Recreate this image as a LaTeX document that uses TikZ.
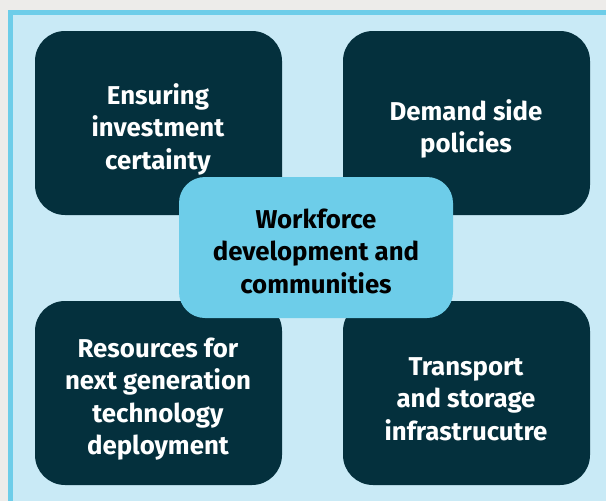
\documentclass[tikz,border=0pt]{standalone}
\usepackage{fontspec}
\setmainfont{Fira Sans}
\definecolor{pagegray}{HTML}{EDECEA}
\definecolor{frameblue}{HTML}{6DCDE9}
\definecolor{panelblue}{HTML}{C9EAF6}
\definecolor{darkteal}{HTML}{04303D}
\definecolor{midblue}{HTML}{6DCDE9}
\tikzset{
  px/.style={x=1pt,y=-1pt},
  darkbox/.style={fill=darkteal,rounded corners=30pt,draw=none},
  centerbox/.style={fill=midblue,rounded corners=26pt,draw=none},
  boxtext/.style={align=center,font=\fontsize{25.8}{32.5}\selectfont\bfseries,text=white,inner sep=0pt},
  centertext/.style={align=center,font=\fontsize{25.8}{32.5}\selectfont\bfseries,text=black,inner sep=0pt}
}
\begin{document}
\begin{tikzpicture}[px]
\useasboundingbox (0,0) rectangle (606,501);
\fill[pagegray] (0,0) rectangle (606,501);
\fill[frameblue] (8,10) rectangle (606,501);
\fill[panelblue] (13,15) rectangle (606,501);
\fill[darkbox] (35,31) rectangle (282,215);
\fill[darkbox] (343,31) rectangle (590,215);
\fill[darkbox] (35,301) rectangle (282,485);
\fill[darkbox] (343,301) rectangle (590,485);
\fill[centerbox] (179,177) rectangle (453,318);
\node[boxtext] (tl) at (158,129) {Ensuring\\investment\\certainty};
\node[boxtext] (tr) at (466,129) {Demand side\\policies};
\node[boxtext] (bl) at (158,399) {Resources for\\next generation\\technology\\deployment};
\node[boxtext] (br) at (466,399) {Transport\\and storage\\infrastrucutre};
\node[centertext] (c) at (316,251) {Workforce\\development and\\communities};
\end{tikzpicture}
\end{document}
